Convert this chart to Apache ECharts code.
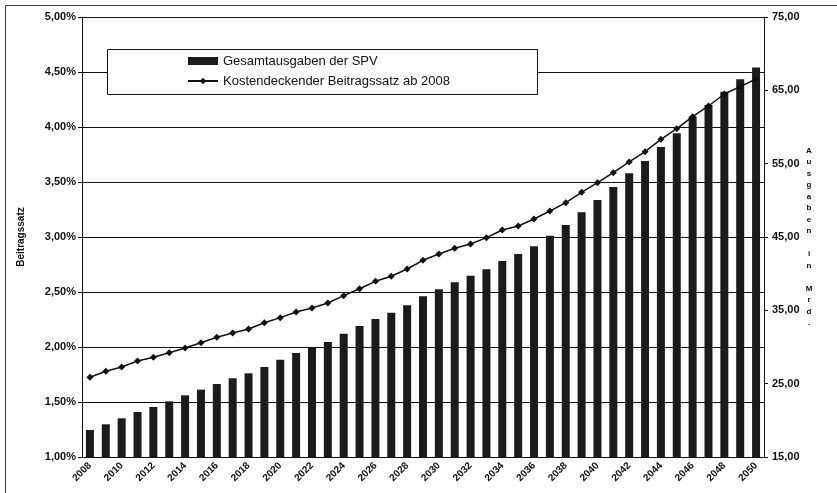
<!DOCTYPE html>
<html>
<head>
<meta charset="utf-8">
<script src="https://cdn.jsdelivr.net/npm/echarts@6/dist/echarts.min.js"></script>
<style>html,body{margin:0;padding:0;background:#fff}#c{width:837px;height:493px}</style>
</head>
<body>
<div id="c"></div>
<script>
var years = [2008,2009,2010,2011,2012,2013,2014,2015,2016,2017,2018,2019,2020,2021,2022,2023,2024,2025,2026,2027,2028,2029,2030,2031,2032,2033,2034,2035,2036,2037,2038,2039,2040,2041,2042,2043,2044,2045,2046,2047,2048,2049,2050].map(String);
var ausgaben = [18.68,19.46,20.27,21.14,21.82,22.59,23.41,24.18,24.95,25.73,26.41,27.27,28.27,29.18,29.9,30.68,31.82,32.86,33.82,34.68,35.68,36.93,37.86,38.82,39.73,40.6,41.73,42.68,43.73,45.18,46.64,48.36,50.05,51.82,53.68,55.36,57.27,59.14,61.41,63.0,64.82,66.5,68.1];
var beitragssatz = [1.725,1.78,1.818,1.873,1.906,1.948,1.991,2.039,2.088,2.127,2.164,2.221,2.267,2.318,2.355,2.40,2.467,2.53,2.597,2.643,2.709,2.788,2.845,2.897,2.936,2.994,3.064,3.10,3.164,3.236,3.312,3.406,3.494,3.585,3.682,3.776,3.888,3.985,4.094,4.191,4.30,4.367,4.436];
var seriesNames = ['Gesamtausgaben der SPV','Kostendeckender Beitragssatz ab 2008'];
var leftAxisName = 'Beitragssatz';
var rightAxisName = 'Ausgaben in Mrd.';

var font = 'Liberation Sans, Arial, sans-serif';
var chart = echarts.init(document.getElementById('c'));
chart.setOption({
  animation: false,
  backgroundColor: '#fff',
  textStyle: {fontFamily: font, color: '#111'},
  grid: {left: 82, right: 73, top: 17, bottom: 36, containLabel: false},
  graphic: [
    {type: 'line', shape: {x1: 5, y1: 5.5, x2: 837, y2: 5.5}, style: {stroke: '#444', lineWidth: 1}, z: 1},
    {type: 'line', shape: {x1: 5.5, y1: 5, x2: 5.5, y2: 493}, style: {stroke: '#444', lineWidth: 1}, z: 1},
    {type: 'rect', shape: {x: 107.5, y: 49.5, width: 430, height: 45}, style: {fill: '#fff', stroke: '#111', lineWidth: 1}, z: 3}
  ],
  legend: {
    orient: 'vertical', left: 187, top: 54, padding: 0, itemGap: 6,
    itemWidth: 30, itemHeight: 8, z: 5,
    data: [{name: seriesNames[0], icon: 'rect'}, {name: seriesNames[1]}],
    textStyle: {fontFamily: font, fontSize: 13, color: '#111', lineHeight: 14}
  },
  xAxis: {
    type: 'category', data: years, boundaryGap: true,
    axisLine: {lineStyle: {color: '#111', width: 1}},
    axisTick: {interval: 0, length: 4, lineStyle: {color: '#111'}},
    axisLabel: {interval: 1, rotate: 45, fontSize: 10, fontWeight: 'bold', color: '#111', margin: 7}
  },
  yAxis: [
    {
      type: 'value', min: 1, max: 5, interval: 0.5, position: 'left',
      name: leftAxisName, nameLocation: 'middle', nameGap: 56, nameRotate: 90,
      nameTextStyle: {fontSize: 10, fontWeight: 'bold', color: '#111'},
      axisLine: {show: true, lineStyle: {color: '#111'}},
      axisTick: {show: true, length: 4, lineStyle: {color: '#111'}},
      axisLabel: {fontSize: 11, fontWeight: 'bold', color: '#111', margin: 6,
        formatter: function (v) { return v.toFixed(2).replace('.', ',') + '%'; }},
      splitLine: {show: true, lineStyle: {color: '#111', width: 1}}
    },
    {
      type: 'value', min: 15, max: 75, interval: 10, position: 'right',
      name: rightAxisName.split('').join('\n'), nameLocation: 'middle', nameGap: 45, nameRotate: 0,
      nameTextStyle: {fontSize: 8, fontWeight: 'bold', color: '#111', lineHeight: 11.5, align: 'center'},
      axisLine: {show: true, lineStyle: {color: '#111'}},
      axisTick: {show: true, length: 4, lineStyle: {color: '#111'}},
      axisLabel: {fontSize: 11, fontWeight: 'bold', color: '#111', margin: 8,
        formatter: function (v) { return v.toFixed(2).replace('.', ','); }},
      splitLine: {show: false}
    }
  ],
  series: [
    {
      name: seriesNames[0], type: 'bar', yAxisIndex: 1, data: ausgaben,
      barWidth: 8, itemStyle: {color: '#1c1a1b'}, z: 2
    },
    {
      name: seriesNames[1], type: 'line', yAxisIndex: 0, data: beitragssatz,
      symbol: 'diamond', symbolSize: 7, showSymbol: true,
      lineStyle: {color: '#111', width: 1.5}, itemStyle: {color: '#111'}, z: 4
    }
  ]
});
</script>
</body>
</html>
